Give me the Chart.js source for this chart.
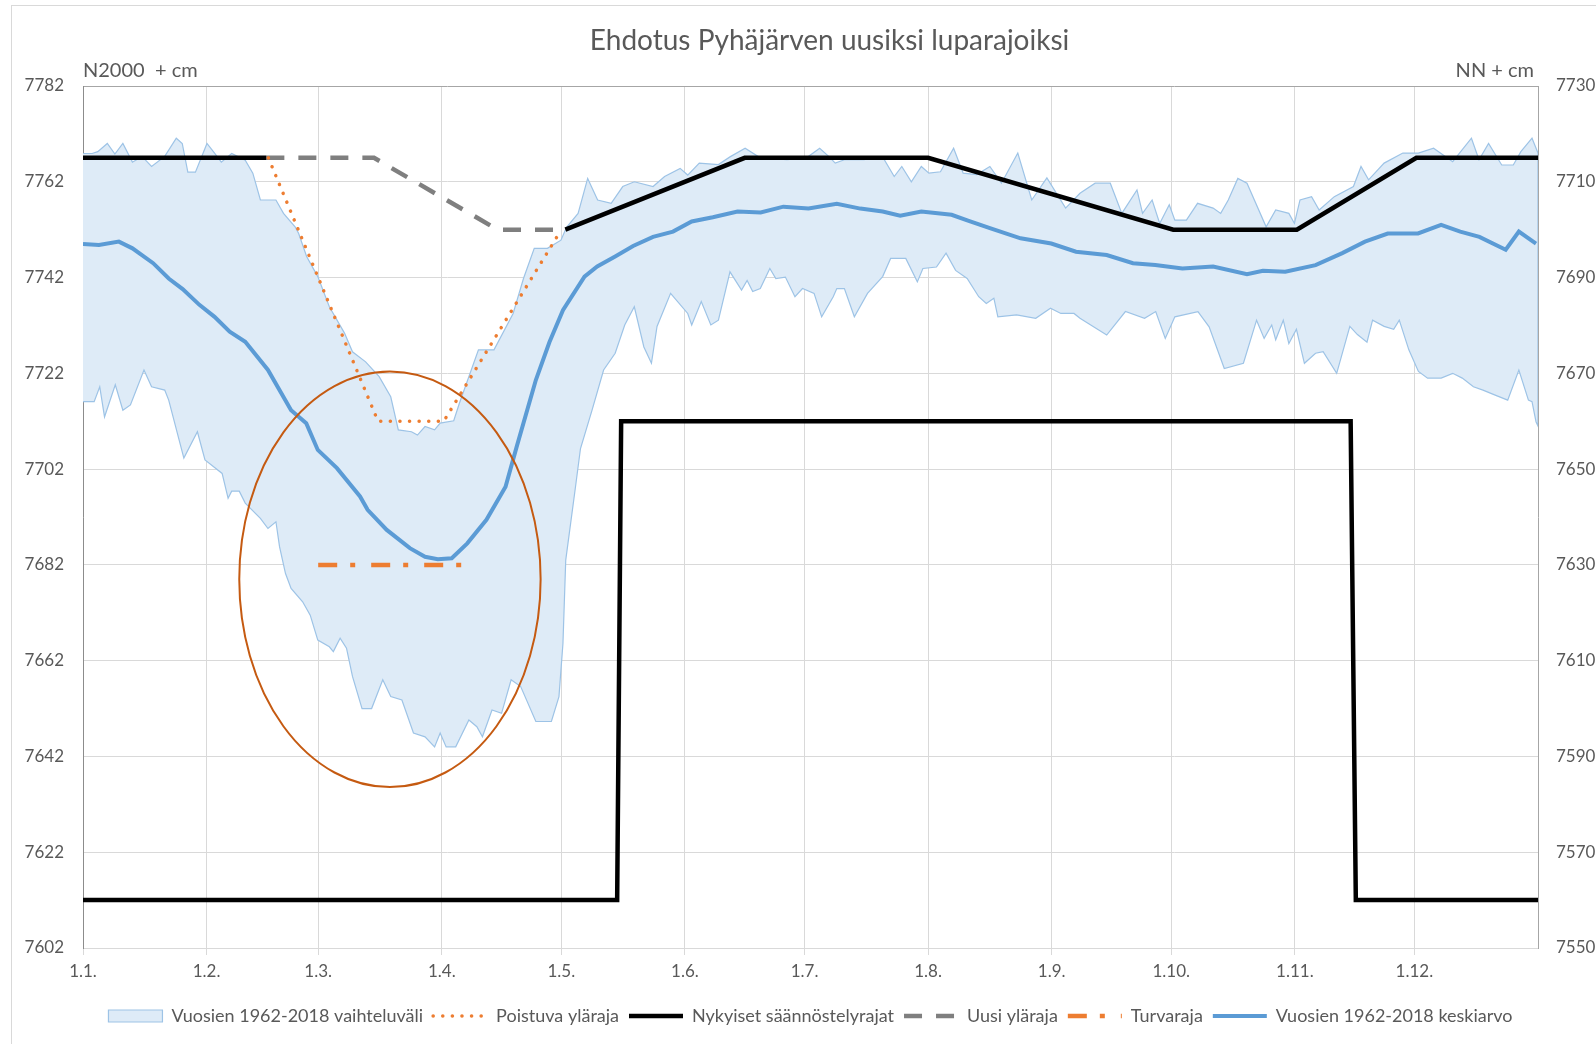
<!DOCTYPE html>
<html>
<head>
<meta charset="utf-8">
<script src="https://cdn.jsdelivr.net/npm/chart.js@4.4.1/dist/chart.umd.min.js"></script>
<style>
html,body{margin:0;padding:0;background:#ffffff;}
#wrap{width:1596px;height:1044px;position:relative;}
</style>
</head>
<body>
<div id="wrap"><canvas id="c" width="1596" height="1044"></canvas></div>
<script>
// ---------- DATA (day of year, 0 = 1.1.) ----------
const monthStartDays = [0,31,59,90,120,151,181,212,243,273,304,334];
const monthLabels = ['1.1.','1.2.','1.3.','1.4.','1.5.','1.6.','1.7.','1.8.','1.9.','1.10.','1.11.','1.12.'];

const titleText = 'Ehdotus Pyhäjärven uusiksi luparajoiksi';
const leftUnitLabel = 'N2000  + cm';
const rightUnitLabel = 'NN + cm';

const seriesNames = [
  'Vuosien 1962-2018 vaihteluväli',
  'Poistuva yläraja',
  'Nykyiset säännöstelyrajat',
  'Uusi yläraja',
  'Turvaraja',
  'Vuosien 1962-2018 keskiarvo'
];

// range band: daily maximum
const bandUpper = [
  [0,7767.9],[2.3,7767.9],[3.7,7768.3],[6.1,7770],[8,7767.8],[10,7770],[12.4,7766.1],[14.8,7767.3],
  [17.2,7765.2],[20.5,7767.3],[23.4,7771.1],[24.9,7770],[26.3,7764],[28.2,7764],[31.1,7770],[33,7768],
  [34.7,7766.1],[37.3,7767.9],[40.7,7766.5],[42.6,7763.8],[44.5,7758.2],[48.4,7758.2],[50.3,7755.4],
  [53.2,7752.6],[54.1,7751.2],[56.1,7746.4],[58.9,7742.2],[61.8,7735.9],[65.6,7730.4],[67.6,7726.5],
  [70.9,7724.4],[74.3,7721.3],[77.2,7717.1],[79.1,7710.2],[82.4,7709.8],[83.9,7709.1],[85.8,7710.9],
  [88.2,7710.2],[89.6,7711.6],[93,7712.1],[94.4,7715.7],[99.2,7726.9],[103.1,7726.9],[107.9,7734.5],
  [110.5,7741.8],[113.2,7748.1],[116.5,7748.1],[119.9,7749.8],[121.3,7752.5],[124.2,7755.4],[126.6,7762.7],
  [129.1,7758.2],[132.5,7757.5],[135.4,7761],[138.3,7762],[143,7761],[145.9,7763.1],[149.8,7764.8],
  [151.7,7763.4],[154.6,7765.9],[159.4,7765.6],[162.3,7767.2],[166.1,7769],[169.9,7767],[176.6,7766.6],
  [181.5,7767],[184.8,7769],[187.2,7767.2],[188.7,7765.9],[191,7766.6],[195.9,7766.6],[200.6,7767.2],
  [203.5,7763.1],[205.4,7765.2],[207.8,7762],[210.3,7765.2],[212.2,7763.8],[215.1,7764.1],[218.4,7769],
  [220.8,7763.8],[224.2,7763.5],[227.5,7765.2],[230.4,7761.7],[234.5,7768],[238,7758.2],[241.8,7762.8],
  [246.5,7756.5],[250.1,7759.6],[253.9,7761.7],[257.7,7761.7],[260.6,7755.4],[264.4,7760.3],[265.8,7755.4],
  [268.2,7758.2],[270.1,7753.3],[272.5,7757.2],[273.9,7754],[276.8,7754],[279.6,7757.5],[283.5,7756.5],
  [285.4,7755.4],[287.3,7758.2],[289.7,7762.7],[292,7761.7],[296.8,7752.6],[299.2,7756.1],[302.5,7755.4],
  [303.9,7753.3],[305.3,7758.2],[308.2,7758.9],[310.1,7756.1],[313.9,7758.9],[318.7,7761],[320.6,7765.2],
  [322.5,7762.4],[326.4,7765.9],[331.1,7768],[335,7768],[338.8,7769],[343.6,7766.2],[348.3,7771.1],
  [350.2,7766.6],[352.6,7770],[355.9,7765.5],[358.8,7765.5],[360.7,7768.3],[363.5,7771.1],[365,7768]
];

// range band: daily minimum
const bandLower = [
  [0,7716.1],[2.8,7716.1],[4.2,7719.2],[5.4,7712.9],[8.1,7719.6],[10,7714.3],[11.9,7715.4],[15.3,7722.7],
  [17.2,7719.2],[20.5,7718.5],[21.5,7716.4],[25.3,7704.3],[28.7,7709.8],[30.6,7703.9],[34.9,7701.1],
  [36.4,7695.9],[37.3,7697.4],[39.2,7697.4],[40.7,7694.9],[44.5,7691.7],[46.4,7689.6],[48.4,7691],
  [49.3,7685.8],[50.8,7680.2],[52.2,7677.1],[55.1,7674.3],[57,7671.5],[58.9,7666.3],[61.8,7664.9],
  [62.8,7663.9],[64.5,7666.7],[66.1,7664.6],[67.6,7658.7],[70,7652],[72.4,7652],[75.2,7658],[77.2,7654.5],
  [80,7653.8],[82.9,7646.9],[85.8,7646.1],[88.2,7644],[89.6,7646.9],[91.1,7644],[93.5,7644],[96.8,7649.6],
  [98.8,7648.2],[100.2,7646.1],[102.6,7651.7],[105,7651],[107.4,7658],[109.8,7656.6],[113.6,7649.3],
  [117.5,7649.3],[119.4,7654.5],[120.4,7665.6],[121.1,7683],[123.5,7698],[124.8,7706.3],[127.7,7714.3],
  [130.6,7722.7],[133.5,7726.2],[135.9,7732.1],[138.3,7735.9],[140.7,7727.5],[142.6,7724.1],[144,7731.8],
  [147.4,7738.7],[151.7,7734.5],[152.7,7732.1],[155.1,7737],[157.5,7732.1],[159.4,7733.1],[162.3,7743.2],
  [165.2,7739.4],[166.6,7741.4],[168,7739.1],[169.9,7739.7],[172.3,7743.9],[173.8,7741.8],[176.2,7742.1],
  [178.6,7738],[180.5,7739.7],[183.4,7738.7],[185.3,7733.8],[188.2,7738],[189.1,7739.7],[191,7739.7],
  [193.5,7733.8],[196.8,7738.7],[200.6,7742.2],[202.6,7746],[206.4,7746],[209.3,7741.1],[210.7,7743.9],
  [214.1,7744.2],[216.5,7747.1],[218.9,7743.5],[221.8,7741.8],[224.7,7738],[226.6,7736.6],[228.5,7737.7],
  [229.5,7733.8],[234.2,7734.2],[239,7733.5],[242.7,7735.6],[245.3,7734.5],[248.6,7734.5],[250.1,7733.5],
  [256.8,7730],[261.5,7734.9],[266.3,7733.5],[269.1,7734.9],[271.5,7729.3],[273.9,7733.8],[279.7,7734.9],
  [282.5,7731.7],[286.3,7723],[291.1,7724.1],[294.4,7733.1],[296.3,7729.3],[298.2,7732.1],[299.2,7729],
  [301.1,7733.1],[302.5,7728.2],[304.4,7731.2],[306.4,7724.1],[309.2,7726.2],[311.1,7726.5],[314.5,7722],
  [317.8,7731.8],[319.7,7730.1],[322.1,7728.5],[323.5,7733.1],[326.4,7731.8],[328.8,7731.2],[330.2,7733.1],
  [332.6,7726.9],[335,7722.4],[337.3,7721],[340.7,7721],[343.6,7722],[346,7721],[348.8,7719.2],[351.2,7718.5],
  [354.1,7717.5],[357.4,7716.4],[360.2,7722.7],[362.6,7716.4],[363.5,7716.1],[364.5,7711.9],[365,7711]
];

// mean level
const meanLevel = [
  [0,7749],[4,7748.8],[9,7749.5],[12.4,7748.1],[17.6,7745],[21.5,7741.8],[25,7739.6],[29.2,7736.3],[33,7733.8],
  [36.8,7730.7],[40.7,7728.6],[46.4,7722.7],[52.2,7714.3],[56,7711.6],[58.9,7706],[63.7,7702.2],[69.5,7696.3],
  [71.4,7693.5],[76.2,7689.3],[82,7685.5],[85.8,7683.7],[89,7683.2],[92.5,7683.4],[96.4,7686.5],[101.2,7691.4],
  [106,7698.3],[108.8,7706.7],[113.6,7720.6],[117,7728.5],[120.4,7735.2],[125.8,7742.2],[129,7744.3],[133.5,7746.4],
  [138,7748.6],[143,7750.5],[148,7751.6],[152.7,7753.7],[158,7754.6],[164.2,7755.8],[170,7755.6],[175.7,7756.8],
  [182,7756.4],[189.1,7757.4],[195,7756.4],[200.6,7755.8],[205,7754.9],[210.3,7755.8],[217.9,7755.1],
  [222,7753.9],[227.5,7752.3],[235.2,7750.2],[242.9,7749.1],[249.1,7747.4],[256.8,7746.7],[263.4,7745],
  [269,7744.6],[275.8,7743.9],[283.5,7744.3],[292,7742.7],[296,7743.4],[301.6,7743.2],[309.2,7744.6],
  [315.9,7747.1],[321.6,7749.5],[327.3,7751.2],[334.9,7751.2],[340.7,7753],[345.5,7751.6],[350.3,7750.5],
  [356.9,7747.8],[360.2,7751.6],[364.5,7749.1]
];

// current regulation limits (upper and lower), null breaks the line
const currentLimits = [
  [0,7767],[46,7767],[46.5,null],[121,7752],[166,7767],[212,7767],[273.5,7752],[304.5,7752],[334.5,7767],[365,7767],
  [365,null],
  [0,7612],[134,7612],[135,7712],[318,7712],[319.3,7612],[365,7612]
];

const newUpperLimit = [[46,7767],[73,7767],[104,7752],[121,7752]];
const removedUpperLimit = [[46.5,7767],[74,7712],[90.5,7712],[120,7752]];
const safetyLimit = [[59,7682],[95.3,7682]];

// ---------- helpers ----------
const toXY = arr => arr.map(p => ({x: p[0], y: p[1]}));
const bandPolygon = toXY(bandUpper).concat(toXY(bandLower).reverse());

// highlight ellipse (in data units)
const highlight = {day: 77, level: 7679, dayRadius: 37.8, levelRadius: 43.4};

const textColor = '#595959';
const fontFamily = 'Lato, "Open Sans", sans-serif';

const extrasPlugin = {
  id: 'extras',
  beforeDraw(chart) {
    const ctx = chart.ctx;
    ctx.save();
    ctx.fillStyle = '#ffffff';
    ctx.fillRect(0, 0, chart.width, chart.height);
    ctx.strokeStyle = '#D9D9D9';
    ctx.lineWidth = 1;
    ctx.strokeRect(11.5, 5.5, chart.width + 40, chart.height + 40);
    ctx.restore();
  },
  afterDatasetsDraw(chart) {
    const {ctx, chartArea, scales} = chart;
    const x = scales.x, y = scales.y;
    ctx.save();
    const cx = x.getPixelForValue(highlight.day);
    const cy = y.getPixelForValue(highlight.level);
    const rx = x.getPixelForValue(highlight.day + highlight.dayRadius) - cx;
    const ry = cy - y.getPixelForValue(highlight.level + highlight.levelRadius);
    ctx.beginPath();
    ctx.ellipse(cx, cy, rx, ry, 0, 0, Math.PI * 2);
    ctx.strokeStyle = '#C55A11';
    ctx.lineWidth = 2;
    ctx.stroke();

    ctx.fillStyle = textColor;
    ctx.font = '20px ' + fontFamily;
    ctx.textBaseline = 'middle';
    ctx.textAlign = 'left';
    ctx.fillText(leftUnitLabel, chartArea.left, chartArea.top - 15);
    ctx.textAlign = 'right';
    ctx.fillText(rightUnitLabel, chartArea.right - 4, chartArea.top - 15);
    ctx.restore();
  }
};

const lineBase = {pointRadius: 0, pointHoverRadius: 0, tension: 0, pointStyle: 'line', spanGaps: false};
const plainNumber = v => String(v);

const chart = new Chart(document.getElementById('c'), {
  type: 'line',
  data: {
    datasets: [
      Object.assign({}, lineBase, {
        label: seriesNames[0], data: bandPolygon, fill: 'shape',
        borderColor: '#9DC3E6', backgroundColor: '#DEEBF7', borderWidth: 1.2,
        pointStyle: 'rect', order: 10
      }),
      Object.assign({}, lineBase, {
        label: seriesNames[1], data: toXY(removedUpperLimit), fill: false,
        borderColor: '#ED7D31', backgroundColor: '#ED7D31', borderWidth: 3.5,
        borderDash: [0.1, 9.5], borderCapStyle: 'round', order: 3
      }),
      Object.assign({}, lineBase, {
        label: seriesNames[2], data: toXY(currentLimits), fill: false,
        borderColor: '#000000', backgroundColor: '#000000', borderWidth: 4.5, order: 4
      }),
      Object.assign({}, lineBase, {
        label: seriesNames[3], data: toXY(newUpperLimit), fill: false,
        borderColor: '#7F7F7F', backgroundColor: '#7F7F7F', borderWidth: 4.5,
        borderDash: [18, 14], order: 5
      }),
      Object.assign({}, lineBase, {
        label: seriesNames[4], data: toXY(safetyLimit), fill: false,
        borderColor: '#ED7D31', backgroundColor: '#ED7D31', borderWidth: 4.5,
        borderDash: [19, 13, 5, 16], order: 2
      }),
      Object.assign({}, lineBase, {
        label: seriesNames[5], data: toXY(meanLevel), fill: false,
        borderColor: '#5B9BD5', backgroundColor: '#5B9BD5', borderWidth: 4, order: 1
      })
    ]
  },
  options: {
    responsive: false,
    animation: false,
    events: [],
    layout: {padding: {left: 20, right: -43, top: 0, bottom: 9}},
    plugins: {
      title: {
        display: true, text: titleText, color: textColor,
        font: {family: fontFamily, size: 28, weight: 'normal'},
        padding: {top: 24, bottom: 28.4}
      },
      legend: {
        position: 'bottom',
        fullSize: false,
        labels: {
          usePointStyle: true,
          pointStyleWidth: 54,
          boxHeight: 12,
          padding: 10,
          color: textColor,
          font: {family: fontFamily, size: 18},
          sort: (a, b) => a.datasetIndex - b.datasetIndex,
          generateLabels(ch) {
            const items = Chart.defaults.plugins.legend.labels.generateLabels(ch);
            items.forEach(it => {
              const ds = ch.data.datasets[it.datasetIndex];
              it.lineDash = ds.borderDash || [];
              it.lineWidth = ds.borderWidth;
              it.lineCap = ds.borderCapStyle || 'butt';
              it.strokeStyle = ds.borderColor;
              it.fillStyle = ds.backgroundColor;
              it.pointStyle = ds.pointStyle;
            });
            return items;
          }
        }
      },
      tooltip: {enabled: false}
    },
    scales: {
      x: {
        type: 'linear', position: 'bottom', min: 0, max: 365,
        afterBuildTicks: s => { s.ticks = monthStartDays.map(v => ({value: v})); },
        afterFit: s => { s.height = 49; },
        ticks: {
          autoSkip: false, maxRotation: 0, minRotation: 0, padding: 6,
          color: textColor, font: {family: fontFamily, size: 17},
          callback: (v, i) => monthLabels[i]
        },
        grid: {color: '#D9D9D9', lineWidth: 1, drawTicks: true, tickLength: 7},
        border: {color: '#D9D9D9', width: 1}
      },
      y: {
        type: 'linear', position: 'left', min: 7602, max: 7782,
        afterFit: s => { s.width = 63; },
        ticks: {stepSize: 20, padding: 19, color: textColor, font: {family: fontFamily, size: 17}, callback: plainNumber},
        grid: {drawTicks: false, lineWidth: 1, color: c => (c.tick && c.tick.value === 7782) ? '#A6A6A6' : '#D9D9D9'},
        border: {color: '#8C8C8C', width: 1}
      },
      y2: {
        type: 'linear', position: 'right', min: 7550, max: 7730,
        afterFit: s => { s.width = 101; },
        ticks: {stepSize: 20, padding: 18, color: textColor, font: {family: fontFamily, size: 17}, callback: plainNumber},
        grid: {drawOnChartArea: false, drawTicks: false},
        border: {color: '#A6A6A6', width: 1}
      }
    }
  },
  plugins: [extrasPlugin]
});
</script>
</body>
</html>
